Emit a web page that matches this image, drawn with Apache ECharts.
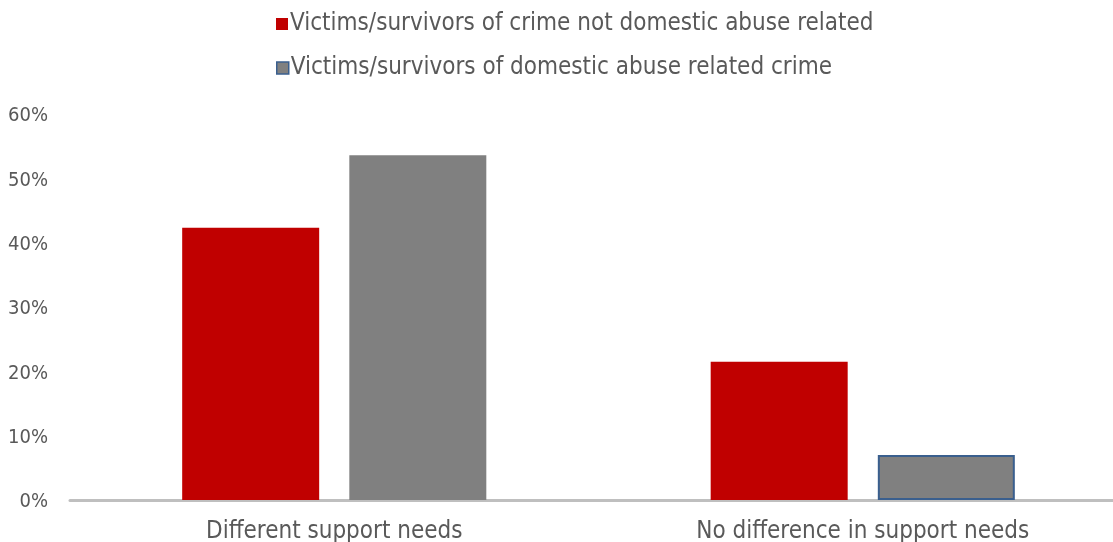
<!DOCTYPE html>
<html><head><meta charset="utf-8">
<script src="https://cdn.jsdelivr.net/npm/echarts@6/dist/echarts.min.js"></script>
<style>html,body{margin:0;padding:0;background:#fff}#c{width:1113px;height:542px}</style>
</head><body><div id="c"></div>
<script>
const categories = ['Different support needs', 'No difference in support needs'];
const seriesNames = ['Victims/survivors of crime not domestic abuse related', 'Victims/survivors of domestic abuse related crime'];
const notDomestic = [42.3, 21.5];
const domestic = [53.6, 7.0];
const yTicks = [0, 10, 20, 30, 40, 50, 60];

const FONT = 'DejaVu Sans Condensed';
const TXT = '#595959';
const chart = echarts.init(document.getElementById('c'));
chart.setOption({
  animation: false,
  textStyle: { fontFamily: FONT },
  legend: [
    { left: 271, top: 7, itemWidth: 12, itemHeight: 12, icon: 'rect', data: [seriesNames[0]],
      textStyle: { fontFamily: FONT, fontSize: 24, color: TXT, padding: [0,0,0,-3] } },
    { left: 271, top: 51, itemWidth: 12, itemHeight: 12, icon: 'rect',
      data: [{ name: seriesNames[1], itemStyle: { borderColor: '#3a5f8e', borderWidth: 1.5 } }],
      textStyle: { fontFamily: FONT, fontSize: 24, color: TXT, padding: [0,0,0,-3] } }
  ],
  grid: { left: 70, top: 114, right: -14, height: 386, containLabel: false, outerBoundsMode: 'none' },
  xAxis: {
    type: 'category', data: categories,
    axisLine: { lineStyle: { color: '#bfbfbf', width: 3 } },
    axisTick: { show: false },
    axisLabel: { color: TXT, fontSize: 24, fontFamily: FONT, margin: 20 }
  },
  yAxis: {
    type: 'value', min: yTicks[0], max: yTicks[yTicks.length - 1], interval: 10,
    axisLine: { show: false }, axisTick: { show: false }, splitLine: { show: false },
    axisLabel: { color: TXT, fontSize: 20, fontFamily: FONT, margin: 22,
      formatter: v => '{a|' + v + '%}',
      rich: { a: { color: TXT, fontSize: 20, fontFamily: FONT, padding: [4, 0, 0, 0] } } }
  },
  series: [
    { name: seriesNames[0], type: 'bar', data: notDomestic, barWidth: 137, barGap: '22%',
      itemStyle: { color: '#c00000' } },
    { name: seriesNames[1], type: 'bar', data: [domestic[0], { value: domestic[1], itemStyle: { borderColor: '#3a5f8e', borderWidth: 2 } }],
      barWidth: 137,
      itemStyle: { color: '#808080', borderColor: '#3a5f8e', borderWidth: 0 } }
  ]
});
</script></body></html>
